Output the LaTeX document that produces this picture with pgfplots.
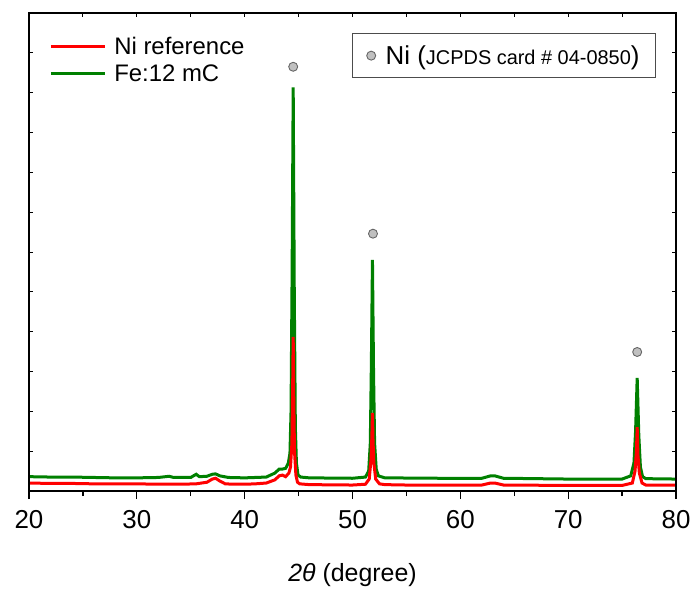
\documentclass[border=0pt]{standalone}
\usepackage{fontspec}
\setmainfont{Liberation Sans}
\usepackage{pgfplots}
\pgfplotsset{compat=1.18}
\definecolor{nired}{RGB}{255,0,0}
\definecolor{fegreen}{RGB}{0,128,0}
\definecolor{dotgray}{RGB}{192,192,192}
\begin{document}
\begin{tikzpicture}
\pgfplotsset{
  common/.style={
    scale only axis, width=647bp, height=478bp,
    xmin=20, xmax=80, ymin=0, ymax=12,
    axis line style={line width=1.5bp, black},
  }
}
\begin{axis}[common, name=main,
  xtick={20,30,...,80}, minor xtick={25,35,...,75},
  xtick pos=bottom, ytick=\empty,
  tick align=outside,
  major tick length=8bp, minor tick length=5bp,
  every tick/.style={black, line width=1.2bp},
  ticklabel style={font=\fontsize{26}{30}\selectfont},
  xticklabel style={yshift=-8bp},
  /pgf/number format/assume math mode=true,
  xlabel={\textit{2θ} (degree)},
  xlabel style={font=\fontsize{25}{30}\selectfont, yshift=-28bp},
  legend style={draw=none, fill=none, at={(0.028,0.959)}, anchor=north west,
    font=\fontsize{24}{28}\selectfont, row sep=5bp, inner sep=2bp},
  legend cell align=left,
  legend image code/.code={\draw[#1] (0bp,0bp) -- (54bp,0bp);},
]
\addlegendimage{nired, line width=3bp}
\addlegendentry{\hspace{6bp}Ni reference}
\addlegendimage{fegreen, line width=3bp}
\addlegendentry{\hspace{6bp}Fe:12 mC}
\addplot[fegreen, line width=3bp, forget plot] coordinates {
(20,0.36) (22,0.35) (24,0.35) (26,0.34) (28,0.33) (30,0.33) (32,0.34) (33,0.37) (33.4,0.34)
(35,0.34) (35.5,0.42) (35.8,0.36) (36.5,0.37) (37.0,0.42) (37.3,0.43) (37.7,0.38) (38.5,0.34)
(40,0.33) (42,0.35) (42.8,0.45) (43.2,0.55) (43.5,0.55) (43.8,0.57) (44.05,0.7) (44.2,0.95)
(44.3,2.0) (44.4,5.5) (44.5,10.13) (44.6,5.0) (44.7,1.6) (44.8,0.7) (44.95,0.4) (45.2,0.35)
(46,0.33) (50,0.32) (51.2,0.35) (51.5,0.5) (51.65,1.2) (51.75,3.2) (51.85,5.8) (51.95,3.0)
(52.05,1.2) (52.2,0.55) (52.4,0.38) (53,0.33) (58,0.32) (62,0.32) (62.8,0.38) (63.2,0.38)
(64,0.32) (70,0.3) (75,0.3) (75.8,0.38) (76.1,0.7) (76.25,1.5) (76.4,2.84) (76.55,1.4)
(76.7,0.6) (76.9,0.36) (77.2,0.31) (80,0.3)
};
\addplot[nired, line width=3bp, forget plot] coordinates {
(20,0.20) (22,0.19) (24,0.19) (26,0.18) (28,0.18) (30,0.18) (32,0.17) (34,0.17) (35.5,0.18)
(36.5,0.22) (37.0,0.30) (37.3,0.32) (37.7,0.25) (38.2,0.18) (39,0.17) (40,0.17) (41,0.18)
(42,0.2) (42.8,0.28) (43.2,0.38) (43.5,0.4) (43.8,0.36) (44.1,0.45) (44.25,0.6) (44.38,1.2)
(44.45,2.6) (44.5,3.87) (44.55,2.4) (44.62,1.0) (44.75,0.4) (44.9,0.22) (45.1,0.18) (46,0.16)
(50,0.15) (51.2,0.17) (51.55,0.3) (51.72,0.8) (51.8,1.4) (51.85,1.96) (51.9,1.3) (51.98,0.7)
(52.15,0.3) (52.5,0.18) (53,0.16) (55,0.15) (62,0.15) (62.8,0.2) (63.2,0.2) (64,0.15)
(70,0.14) (75,0.14) (75.95,0.2) (76.2,0.5) (76.33,1.0) (76.4,1.6) (76.47,0.9) (76.6,0.45)
(76.85,0.2) (77.2,0.15) (80,0.15)
};
\end{axis}
\begin{axis}[common,
  xtick={20,25,...,80}, xtick pos=top, xticklabels={},
  ytick={1,2,...,11}, ytick pos=both, yticklabels={},
  tick align=inside, major tick length=4bp,
  every tick/.style={black, line width=0.9bp},
  legend style={draw=black!70, line width=0.9bp, fill=white, at={(0.969,0.958)}, anchor=north east,
    font=\fontsize{26}{30}\selectfont, inner xsep=14bp, inner ysep=10bp},
  legend image code/.code={\draw[#1] plot coordinates {(0bp,0bp)};},
]
\addplot[only marks, mark=*, mark size=4.5bp, mark options={fill=dotgray, draw=black!60, line width=0.9bp}]
  coordinates {(44.5,10.65) (51.9,6.46) (76.4,3.49)};
\addlegendentry{\hspace{8bp}Ni ({\fontsize{20}{24}\selectfont JCPDS card \# 04-0850})}
\end{axis}
\useasboundingbox ([xshift=-29bp,yshift=-101bp]main.south west) rectangle ([xshift=18bp,yshift=13bp]main.north east);
\end{tikzpicture}
\end{document}
